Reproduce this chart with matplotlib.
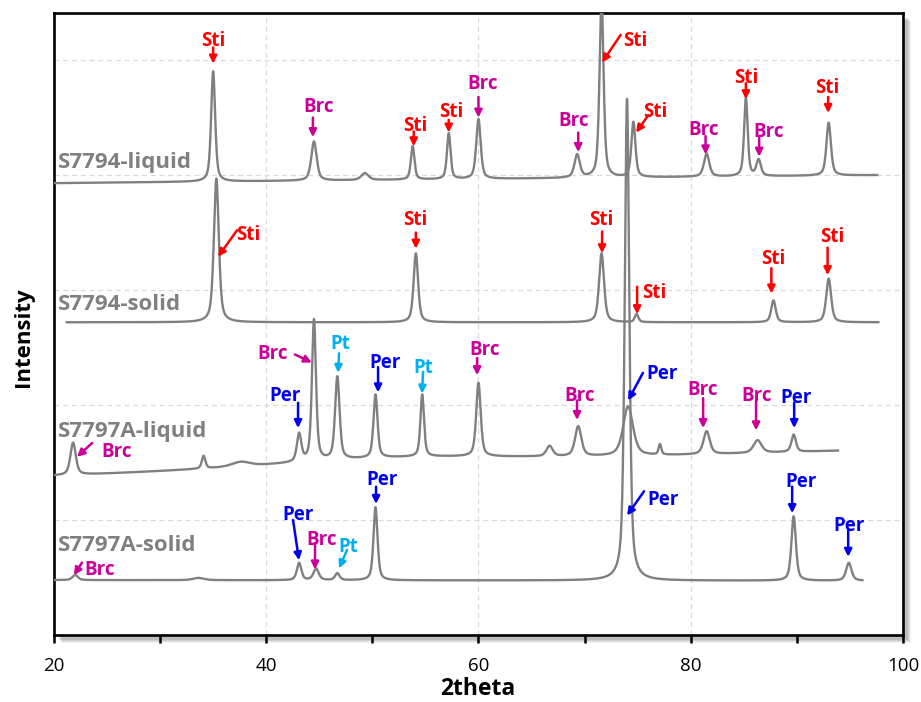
import numpy as np
import matplotlib.pyplot as plt
from matplotlib.patches import Rectangle

plt.rcParams['font.family'] = ['Open Sans', 'DejaVu Sans']

# --- patrones (posicion del pico, altura, anchura a media altura) ---
names = ['S7794-liquid', 'S7794-solid', 'S7797A-liquid', 'S7797A-solid']
ranges = [(20.0, 97.6), (21.2, 97.7), (20.0, 93.9), (20.0, 96.2)]
base_left = [3.93, 2.72, 1.38, 0.478]
base_right = [4.00, 2.72, 1.60, 0.472]

liq94_pos = [35.0, 44.5, 49.3, 53.8, 57.2, 60.0, 69.3, 71.6, 74.6, 81.5, 85.2, 86.4, 93.0]
liq94_h = [0.96, 0.34, 0.06, 0.29, 0.40, 0.52, 0.20, 1.55, 0.48, 0.20, 0.68, 0.14, 0.46]
liq94_w = [0.45, 0.6, 0.8, 0.4, 0.4, 0.5, 0.6, 0.45, 0.45, 0.6, 0.4, 0.5, 0.5]

sol94_pos = [35.3, 54.1, 71.6, 74.9, 87.8, 93.0]
sol94_h = [1.25, 0.60, 0.60, 0.07, 0.19, 0.38]
sol94_w = [0.55, 0.5, 0.55, 0.4, 0.5, 0.55]

liq97_pos = [52.0, 21.8, 34.1, 37.6, 43.1, 44.5, 46.7, 50.3, 54.7, 60.0, 66.7, 69.4, 74.1, 77.1, 81.5, 86.3, 89.7]
liq97_h = [0.07, 0.28, 0.11, 0.04, 0.24, 1.23, 0.72, 0.55, 0.54, 0.64, 0.09, 0.26, 0.43, 0.09, 0.20, 0.11, 0.15]
liq97_w = [28.0, 0.6, 0.4, 2.0, 0.5, 0.45, 0.5, 0.45, 0.4, 0.5, 0.7, 0.7, 1.1, 0.3, 0.7, 0.9, 0.5]

sol97_pos = [22.0, 33.6, 43.1, 44.7, 46.7, 50.3, 74.0, 89.7, 94.9]
sol97_h = [0.045, 0.02, 0.15, 0.10, 0.06, 0.635, 4.19, 0.56, 0.155]
sol97_w = [0.6, 1.2, 0.5, 0.6, 0.5, 0.45, 0.5, 0.5, 0.6]

peaks = [(liq94_pos, liq94_h, liq94_w), (sol94_pos, sol94_h, sol94_w),
         (liq97_pos, liq97_h, liq97_w), (sol97_pos, sol97_h, sol97_w)]
name_y = [4.06, 2.83, 1.72, 0.73]

# --- fases marcadas: (fase, x texto, y texto, x cola, y cola, x punta, y punta) ---
phase_marks = [
    ('Sti', 35.0, 5.19, 35.0, 5.11, 35.0, 4.97),
    ('Brc', 44.9, 4.61, 44.4, 4.50, 44.4, 4.33),
    ('Sti', 54.0, 4.45, 53.9, 4.38, 53.9, 4.25),
    ('Sti', 57.4, 4.57, 57.2, 4.48, 57.2, 4.37),
    ('Brc', 60.4, 4.81, 60.0, 4.68, 60.0, 4.50),
    ('Brc', 69.0, 4.49, 69.4, 4.37, 69.4, 4.20),
    ('Sti', 74.8, 5.19, 73.4, 5.22, 71.65, 4.98),
    ('Sti', 76.7, 4.57, 76.0, 4.52, 74.85, 4.37),
    ('Brc', 81.2, 4.41, 81.4, 4.34, 81.4, 4.18),
    ('Sti', 85.2, 4.87, 85.2, 4.80, 85.2, 4.66),
    ('Brc', 87.3, 4.40, 86.45, 4.33, 86.45, 4.16),
    ('Sti', 92.9, 4.78, 92.95, 4.68, 92.95, 4.54),
    ('Sti', 38.3, 3.50, 37.25, 3.52, 35.46, 3.29),
    ('Sti', 54.0, 3.63, 54.1, 3.50, 54.1, 3.36),
    ('Sti', 71.6, 3.63, 71.65, 3.51, 71.65, 3.32),
    ('Sti', 76.55, 3.00, 74.95, 3.03, 74.95, 2.79),
    ('Sti', 87.8, 3.29, 87.6, 3.19, 87.6, 2.97),
    ('Sti', 93.3, 3.48, 92.9, 3.37, 92.9, 3.13),
    ('Brc', 25.9, 1.61, 23.6, 1.67, 22.17, 1.55),
    ('Per', 41.8, 2.10, 43.0, 2.02, 43.0, 1.80),
    ('Brc', 40.6, 2.47, 42.7, 2.44, 44.3, 2.37),
    ('Pt', 47.0, 2.55, 46.86, 2.45, 46.77, 2.28),
    ('Per', 51.2, 2.39, 50.54, 2.33, 50.54, 2.11),
    ('Pt', 54.8, 2.34, 54.78, 2.29, 54.68, 2.10),
    ('Brc', 60.6, 2.50, 59.87, 2.41, 59.87, 2.26),
    ('Brc', 69.5, 2.10, 69.29, 2.04, 69.29, 1.87),
    ('Per', 77.3, 2.29, 75.5, 2.28, 74.1, 2.04),
    ('Brc', 81.1, 2.15, 81.17, 2.06, 81.17, 1.80),
    ('Brc', 86.2, 2.10, 86.16, 2.04, 86.16, 1.78),
    ('Per', 89.9, 2.08, 89.75, 2.02, 89.75, 1.80),
    ('Brc', 24.3, 0.59, 22.64, 0.63, 21.88, 0.52),
    ('Per', 43.0, 1.07, 42.53, 1.00, 43.09, 0.65),
    ('Brc', 45.2, 0.85, 44.6, 0.80, 44.6, 0.57),
    ('Pt', 47.7, 0.79, 47.62, 0.74, 46.86, 0.58),
    ('Per', 50.9, 1.37, 50.35, 1.29, 50.35, 1.14),
    ('Per', 77.4, 1.20, 75.6, 1.25, 74.0, 1.04),
    ('Per', 90.4, 1.35, 89.56, 1.29, 89.56, 1.06),
    ('Per', 94.9, 0.97, 94.84, 0.91, 94.84, 0.68),
]
phase_colors = {'Sti': '#ff0000', 'Brc': '#cc0099', 'Per': '#0000ee', 'Pt': '#00b0f0'}


def pseudo_voigt(x, pos, h, w, eta=0.55):
    y = np.zeros_like(x)
    for c, a, f in zip(pos, h, w):
        u = (x - c) / (f / 2)
        y += a * (eta / (1 + u ** 2) + (1 - eta) * np.exp(-np.log(2) * u ** 2))
    return y


fig = plt.figure(figsize=(9.21, 7.02), dpi=100)
ax = fig.add_axes([0.0586, 0.0954, 0.9218, 0.8861])

# sombra del marco
for k, a in enumerate([0.10, 0.14, 0.18, 0.22]):
    off = (4 - k) / 921
    fig.patches.append(Rectangle((0.0586 + off + 0.004, 0.0954 - off * 1.3 - 0.006),
                                 0.9218, 0.8861, transform=fig.transFigure,
                                 facecolor='#808080', edgecolor='none', alpha=a, zorder=0))
ax.set_facecolor('white')
ax.set_zorder(1)

for i in range(4):
    x0, x1 = ranges[i]
    x = np.arange(x0, x1, 0.02)
    base = base_left[i] + (base_right[i] - base_left[i]) * (x - x0) / (x1 - x0)
    y = base + pseudo_voigt(x, *peaks[i])
    ax.plot(x, y, color='#808080', lw=1.7, zorder=3)
    ax.text(20.35, name_y[i], names[i], color='#808080', fontsize=16,
            fontweight='bold', ha='left', va='baseline', zorder=4)

for lab, tx, ty, ax0, ay0, ax1, ay1 in phase_marks:
    c = phase_colors[lab]
    ax.text(tx, ty, lab, color=c, fontsize=13.5, fontweight='bold',
            ha='center', va='center_baseline', zorder=5)
    ax.annotate('', xy=(ax1, ay1), xytext=(ax0, ay0),
                arrowprops=dict(arrowstyle='-|>', color=c, lw=1.8,
                                mutation_scale=11, shrinkA=0, shrinkB=0), zorder=5)

ax.set_xlim(20, 100)
ax.set_ylim(0, 5.41)
ax.set_xticks([20, 40, 60, 80, 100])
ax.set_xticks([30, 50, 70, 90], minor=True)
ax.set_yticks([1, 2, 3, 4, 5])
ax.set_yticklabels([])
ax.tick_params(axis='y', length=0)
ax.tick_params(axis='x', which='both', direction='out', length=6, width=1.8,
               labelsize=13.5, pad=10)
ax.grid(True, which='major', color='#d9d9d9', lw=0.9, ls=(0, (4, 3)))
for s in ax.spines.values():
    s.set_linewidth(1.9)
    s.set_color('black')

fig.text(0.025, 0.52, 'Intensity', rotation=90, fontsize=16, fontweight='bold',
         ha='center', va='center')
fig.text(0.519, 0.01, '2theta', fontsize=16.5, fontweight='bold', ha='center', va='baseline')

fig.savefig('out.png', dpi=100)
